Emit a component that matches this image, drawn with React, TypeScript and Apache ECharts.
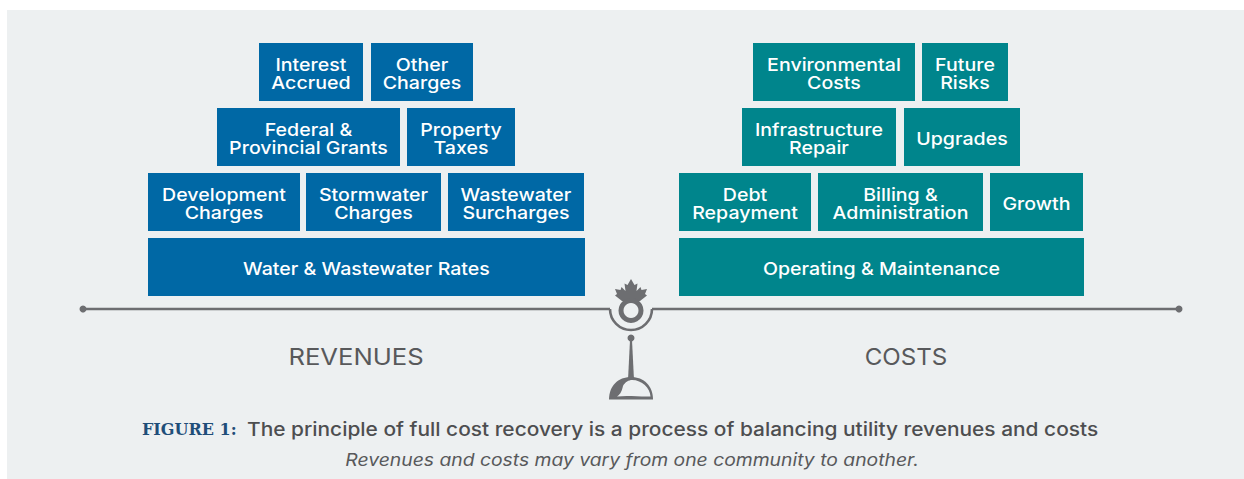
import React, { useEffect, useRef } from "react";
import * as echarts from "echarts";

const rows = ["base", "second", "third", "top"];

const revenueNames = [
  "Interest\nAccrued", "Other\nCharges",
  "Federal &\nProvincial Grants", "Property\nTaxes",
  "Development\nCharges", "Stormwater\nCharges", "Wastewater\nSurcharges",
  "Water & Wastewater Rates",
];
const revenueStart = [259, 371, 217, 407, 148, 306, 448, 148];
const revenueEnd = [363, 473, 400, 515, 300, 441, 584, 585];
const revenueRows = ["top", "top", "third", "third", "second", "second", "second", "base"];

const costNames = [
  "Environmental\nCosts", "Future\nRisks",
  "Infrastructure\nRepair", "Upgrades",
  "Debt\nRepayment", "Billing &\nAdministration", "Growth",
  "Operating & Maintenance",
];
const costStart = [753, 922, 742, 904, 679, 818, 990, 679];
const costEnd = [915, 1008, 896, 1020, 811, 983, 1083, 1084];
const costRows = ["top", "top", "third", "third", "second", "second", "second", "base"];

const revenuesLabel = "REVENUES";
const costsLabel = "COSTS";
const figureLabel = "FIGURE 1:";
const captionText = "The principle of full cost recovery is a process of balancing utility revenues and costs";
const noteText = "Revenues and costs may vary from one community to another.";

const BG = "#edf0f1";
const GREY = "#6d6e71";
const FONT = "Inter, 'Noto Sans', sans-serif";

echarts.graphic.registerShape(
  "scaleDome",
  echarts.graphic.extendPath(
    "M609 399.5 C609 386 618 377 631 377 C644 377 653 386 653 399.5 Z",
    {}
  )
);
echarts.graphic.registerShape(
  "scaleDomeInner",
  echarts.graphic.extendPath(
    "M617 396.5 C621 394 622 390 623 386 C625 382 629 380 632 380 C642 380 650 388 650.5 396.5 C640 397 628 395 617 396.5 Z",
    {}
  )
);

function blockSeries(name: string, names: string[], start: number[], end: number[], blockRows: string[], color: string) {
  return {
    type: "custom",
    name,
    coordinateSystem: "cartesian2d",
    silent: true,
    encode: { x: [0, 1], y: 2 },
    data: names.map((n, i) => [start[i], end[i], blockRows[i], n]),
    renderItem: (_: any, api: any) => {
      const a = api.coord([api.value(0), api.value(2)]);
      const b = api.coord([api.value(1), api.value(2)]);
      const h = api.size([0, 1])[1] - 7;
      const label = String(api.value(3));
      return {
        type: "group",
        children: [
          {
            type: "rect",
            shape: { x: a[0], y: a[1] - h / 2, width: b[0] - a[0], height: h },
            style: { fill: color },
          },
          {
            type: "text",
            x: (a[0] + b[0]) / 2,
            y: a[1] + 1.5,
            scaleX: 1.12,
            style: {
              x: 0,
              y: 0,
              text: label,
              fill: "#ffffff",
              font: `500 17.5px ${FONT}`,
              lineHeight: 18.5,
              align: "center",
              verticalAlign: "middle",
            },
          },
        ],
      };
    },
  };
}

function text(t: string, x: number, y: number, font: string, fill: string, align = "center", scaleX = 1) {
  return { type: "text", x, y, scaleX, style: { text: t, font, fill, align, verticalAlign: "middle" } };
}

const leaf = [
  [631, 279], [634.5, 285], [637.5, 283.5], [636.5, 291], [640.5, 287], [641.5, 290], [647, 289],
  [645, 294], [647, 295.5], [640, 301], [622, 301], [615, 295.5], [617, 294], [615, 289],
  [620.5, 290], [621.5, 287], [625.5, 291], [624.5, 283.5], [627.5, 285],
];

export default function App() {
  const ref = useRef<HTMLDivElement>(null);
  useEffect(() => {
    document.body.style.margin = "0";
    const chart = echarts.init(ref.current!, null, { renderer: "svg" });
    chart.setOption({
      animation: false,
      backgroundColor: "#ffffff",
      grid: { left: 0, right: 0, top: 39.5, bottom: 179.5 },
      xAxis: { type: "value", min: 0, max: 1244, show: false },
      yAxis: { type: "category", data: rows, show: false },
      tooltip: { show: false },
      graphic: [
        { type: "rect", z: 0, shape: { x: 7, y: 10, width: 1237, height: 469 }, style: { fill: BG } },
        { type: "line", shape: { x1: 83, y1: 309, x2: 610, y2: 309 }, style: { stroke: GREY, lineWidth: 2.6 } },
        { type: "line", shape: { x1: 652, y1: 309, x2: 1179, y2: 309 }, style: { stroke: GREY, lineWidth: 2.6 } },
        { type: "circle", shape: { cx: 83, cy: 309, r: 3.5 }, style: { fill: GREY } },
        { type: "circle", shape: { cx: 1179, cy: 309, r: 3.5 }, style: { fill: GREY } },
        { type: "arc", shape: { cx: 631, cy: 309, r: 21, startAngle: 0, endAngle: Math.PI, clockwise: true }, style: { stroke: GREY, lineWidth: 2.6, fill: "none" } },
        { type: "polygon", shape: { points: leaf }, style: { fill: GREY } },
        { type: "ring", shape: { cx: 631, cy: 310.5, r: 12.5, r0: 7.5 }, style: { fill: GREY } },
        { type: "circle", shape: { cx: 631, cy: 338, r: 3.5 }, style: { fill: GREY } },
        { type: "polygon", shape: { points: [[630, 340], [632, 340], [634, 380], [628, 380]] }, style: { fill: GREY } },
        { type: "scaleDome", x: 0, y: 0, style: { fill: GREY } },
        { type: "scaleDomeInner", x: 0, y: 0, style: { fill: BG } },
        text(revenuesLabel, 356, 357, `400 23px ${FONT}`, "#58595b", "center", 1.115),
        text(costsLabel, 906, 357, `400 23px ${FONT}`, "#58595b", "center", 1.05),
        text(figureLabel, 142, 429, "bold 16px 'DejaVu Serif', serif", "#1f4e79", "left", 1),
        text(captionText, 247, 429, `500 18.5px ${FONT}`, "#4d4e50", "left", 1.13),
        text(noteText, 632, 459, `italic 400 17px ${FONT}`, "#58595b", "center", 1.137),
      ],
      series: [
        blockSeries("Revenues", revenueNames, revenueStart, revenueEnd, revenueRows, "#0068a5"),
        blockSeries("Costs", costNames, costStart, costEnd, costRows, "#00858c"),
      ],
    });
    return () => chart.dispose();
  }, []);
  return <div ref={ref} style={{ position: "absolute", left: 0, top: 0, width: 1244, height: 479 }} />;
}
